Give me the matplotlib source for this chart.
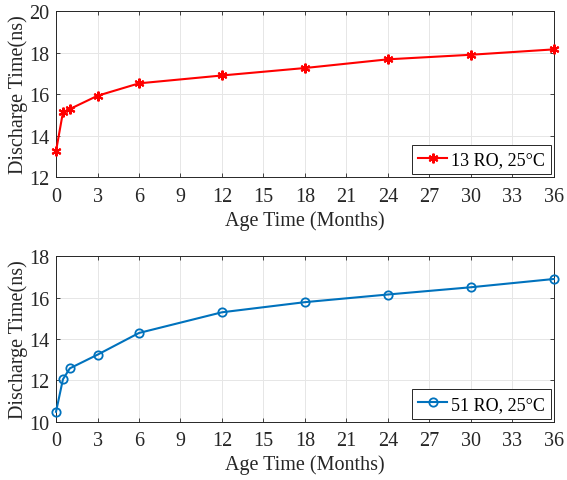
import numpy as np
import matplotlib.pyplot as plt

plt.rcParams['font.family'] = ['Liberation Serif', 'DejaVu Serif']

# data
months = [0, 0.5, 1, 3, 6, 12, 18, 24, 30, 36]
ro13 = [13.25, 15.12, 15.28, 15.92, 16.52, 16.90, 17.26, 17.68, 17.90, 18.16]
ro51 = [10.48, 12.05, 12.58, 13.24, 14.29, 15.29, 15.78, 16.15, 16.50, 16.90]
xticks = np.arange(0, 37, 3)

fig = plt.figure(figsize=(5.67, 4.81), dpi=100)
ax1 = fig.add_axes([0.0988, 0.630, 0.878, 0.3445])
ax2 = fig.add_axes([0.0988, 0.1212, 0.878, 0.344])

def style(ax, ylim, yticks):
    ax.set_xlim(0, 36)
    ax.set_ylim(*ylim)
    ax.set_xticks(xticks)
    ax.set_yticks(yticks)
    ax.grid(True, color='#e6e6e6', linewidth=0.7)
    ax.set_axisbelow(True)
    ax.tick_params(direction='in', top=True, right=True, labelsize=14.5,
                   length=3, width=0.6, color='#262626', labelcolor='#262626')
    ax.tick_params(axis='x', pad=7)
    ax.tick_params(axis='y', pad=5)
    for s in ax.spines.values():
        s.set_linewidth(0.7)
        s.set_color('#262626')
    ax.set_xlabel('Age Time (Months)', fontsize=14.5, color='#262626', labelpad=3)
    ax.set_ylabel('Discharge Time(ns)', fontsize=14.5, color='#262626', labelpad=0.5)

ax1.plot(months, ro13, color='#ff0000', linewidth=1.5, marker=(6, 2, 0),
         markersize=7, markeredgewidth=1.5, label='13 RO, 25°C', clip_on=False,
         zorder=5)
style(ax1, (12, 20), [12, 14, 16, 18, 20])

ax2.plot(months, ro51, color='#0072bd', linewidth=1.5, marker='o',
         markersize=6, markerfacecolor='none', markeredgewidth=1.3,
         label='51 RO, 25°C', clip_on=False, zorder=5)
style(ax2, (10, 18), [10, 12, 14, 16, 18])

for ax in (ax1, ax2):
    leg = ax.legend(loc='lower right', fontsize=13, fancybox=False,
                    handlelength=1.6, handletextpad=0.2, borderpad=0.35,
                    borderaxespad=0.15, framealpha=1)
    leg.get_frame().set_edgecolor('#262626')
    leg.get_frame().set_linewidth(0.7)
    leg.set_zorder(10)

fig.savefig('out.png', dpi=100)
